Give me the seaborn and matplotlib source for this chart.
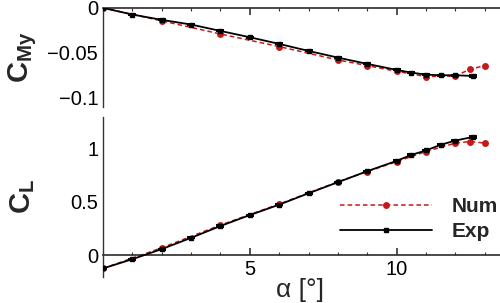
import numpy as np
import pandas as pd
import matplotlib
matplotlib.use("Agg")
import matplotlib.pyplot as plt
import seaborn as sns
from matplotlib.ticker import MultipleLocator, FixedLocator
from matplotlib.lines import Line2D

# ---- data ----
num_alpha = [0, 2, 4, 6, 8, 9, 10, 11, 12, 12.5, 13]
num_cmy = [0.0, -0.0144, -0.029, -0.043, -0.0578, -0.0641, -0.0704, -0.0763, -0.0756, -0.0681, -0.0641]
num_cl = [-0.125, 0.069, 0.283, 0.481, 0.690, 0.786, 0.880, 0.975, 1.054, 1.069, 1.054]

exp_alpha = [0, 1, 2, 3, 4, 5, 6, 7, 8, 9, 10, 10.5, 11, 11.5, 12, 12.6]
exp_cmy = [0.0, -0.0074, -0.0133, -0.0185, -0.0256, -0.0326, -0.0400, -0.0478, -0.0552,
           -0.0622, -0.0689, -0.0719, -0.0741, -0.0748, -0.0748, -0.0756]
exp_cmy_err = [0.0006] * 15 + [0.0012]
exp_cl = [-0.125, -0.038, 0.057, 0.163, 0.274, 0.377, 0.475, 0.582, 0.686, 0.790, 0.887,
          0.943, 0.985, 1.038, 1.078, 1.112]
exp_cl_err = [0.005] * 15 + [0.012]

num_df = pd.DataFrame({"alpha": num_alpha, "CMy": num_cmy, "CL": num_cl})
exp_df = pd.DataFrame({"alpha": exp_alpha, "CMy": exp_cmy, "CL": exp_cl,
                       "CMy_err": exp_cmy_err, "CL_err": exp_cl_err})

sns.set_theme(style="white")
plt.rcParams["font.family"] = ["Liberation Sans", "DejaVu Sans"]
plt.rcParams["mathtext.fontset"] = "custom"
plt.rcParams["mathtext.rm"] = "Liberation Sans"
plt.rcParams["mathtext.bf"] = "Liberation Sans:bold"
plt.rcParams["axes.unicode_minus"] = True

RED = "#c41a1a"
fig = plt.figure(figsize=(5.0, 3.03), dpi=100)
ax1 = fig.add_axes([0.206, 0.647, 0.794, 0.327])
ax2 = fig.add_axes([0.206, 0.086, 0.794, 0.528])

XMAX = 13.52


def draw(ax, col, errcol):
    sns.lineplot(data=num_df, x="alpha", y=col, ax=ax, color=RED, linestyle=(0, (3, 2)),
                 linewidth=1.1, marker="o", markersize=5, markeredgewidth=0,
                 zorder=2, legend=False)
    ax.errorbar(exp_df["alpha"], exp_df[col], yerr=exp_df[errcol], color="black",
                linewidth=1.3, marker="s", markersize=2.5, capsize=2.6, elinewidth=1.0,
                capthick=1.4, zorder=3)
    ax.set_xlim(0, XMAX)
    ax.set_xlabel("")
    ax.set_ylabel("")
    for s in ["right", "bottom", "top", "left"]:
        ax.spines[s].set_visible(False)
    ax.spines["left"].set_visible(True)
    ax.spines["left"].set_color("#333333")
    ax.spines["left"].set_linewidth(1.0)
    ax.xaxis.set_major_locator(FixedLocator([5, 10]))
    ax.xaxis.set_minor_locator(MultipleLocator(1))
    ax.tick_params(axis="both", which="both", direction="in", colors="#333333",
                   labelcolor="black", labelsize=14.5)
    ax.tick_params(which="major", length=5, width=1.2)
    ax.tick_params(which="minor", length=2.5, width=0.8)


draw(ax1, "CMy", "CMy_err")
draw(ax2, "CL", "CL_err")

ax1.set_ylim(-0.11, 0)
ax1.spines["top"].set_visible(True)
ax1.spines["top"].set_color("#333333")
ax1.xaxis.set_ticks_position("top")
ax1.tick_params(axis="x", labeltop=False, labelbottom=False)
ax1.yaxis.set_major_locator(FixedLocator([0, -0.05, -0.1]))
ax1.yaxis.set_minor_locator(MultipleLocator(0.01))
ax1.set_yticklabels(["0", "\u22120.05", "\u22120.1"])

ax2.set_ylim(-0.205, 1.3)
ax2.spines["bottom"].set_visible(True)
ax2.spines["bottom"].set_position(("data", 0))
ax2.spines["bottom"].set_color("#333333")
ax2.xaxis.set_ticks_position("bottom")
ax2.yaxis.set_major_locator(FixedLocator([0, 0.5, 1]))
ax2.yaxis.set_minor_locator(MultipleLocator(0.1))
ax2.set_yticklabels(["0", "0.5", "1"])

handles = [Line2D([], [], color=RED, linestyle=(0, (3, 2)), linewidth=1.1, marker="o",
                  markersize=5, markeredgewidth=0),
           Line2D([], [], color="black", linewidth=1.3, marker="s", markersize=2.5)]
fig.legend(handles, ["Num", "Exp"], loc="center left", bbox_to_anchor=(0.643, 0.277),
           frameon=False, handlelength=4.4, handletextpad=0.95, labelspacing=0.3,
           prop={"weight": "bold", "size": 15})

fig.text(0.045, 1 - 57 / 303, r"$\mathbf{C_{My}}$", rotation=90, fontsize=21,
         ha="center", va="center")
fig.text(0.045, 1 - 196 / 303, r"$\mathbf{C_{L}}$", rotation=90, fontsize=21,
         ha="center", va="center")
fig.text(0.60, 1 - 290 / 303, "\u03b1 [\u00b0]", fontsize=19, ha="center", va="center")

fig.savefig("out.png", dpi=100)
